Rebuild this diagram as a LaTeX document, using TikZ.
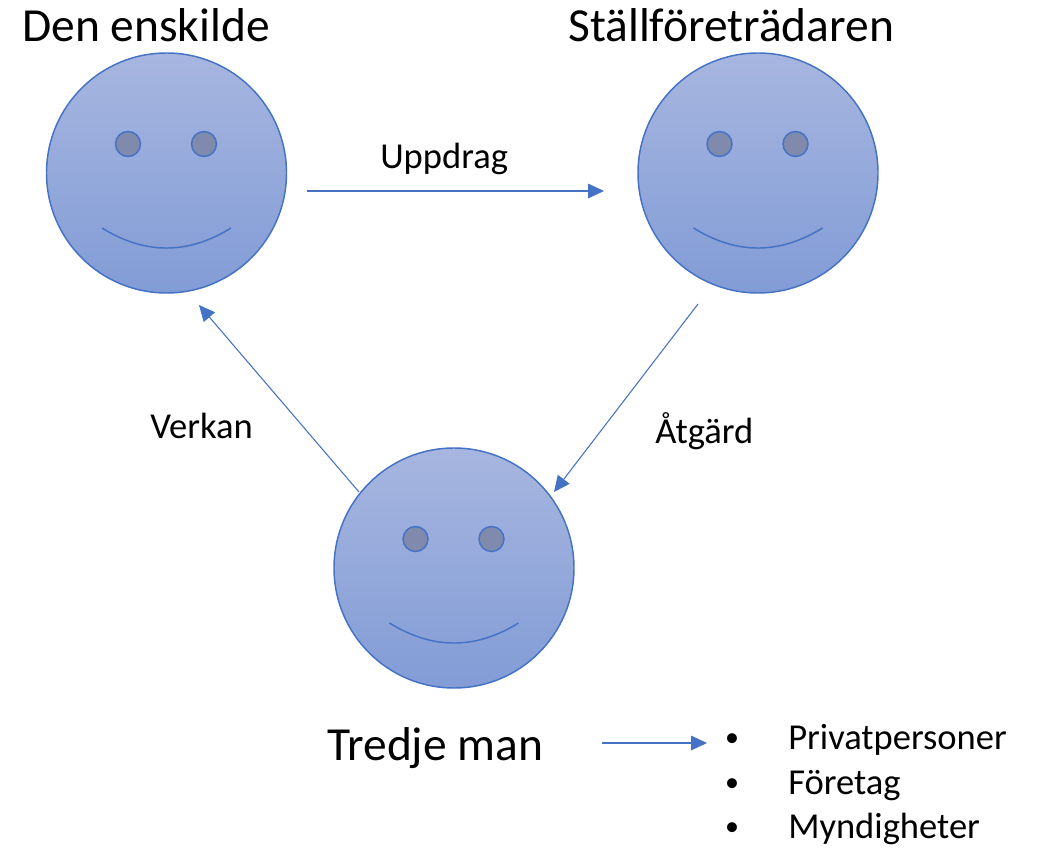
\documentclass[tikz,border=0pt]{standalone}
\usepackage{fontspec}
\setmainfont{Carlito}
\usetikzlibrary{arrows.meta}
\definecolor{facetop}{RGB}{167,182,224}
\definecolor{facebot}{RGB}{130,156,214}
\definecolor{edgeblue}{RGB}{68,114,196}
\definecolor{eyefill}{RGB}{127,138,173}
\tikzset{
  face/.style={circle, draw=edgeblue, line width=1.1pt, top color=facetop, bottom color=facebot, minimum size=180pt, inner sep=0pt},
  eye/.style={draw=edgeblue, line width=1.1pt, fill=eyefill},
  smile/.style={draw=edgeblue, line width=1.1pt},
  conn/.style={draw=edgeblue, line width=0.8pt, -{Triangle[length=12pt,width=11pt]}},
  bigtext/.style={anchor=base west, inner sep=0pt, font=\fontsize{35.6}{42}\selectfont},
  lbl/.style={anchor=base west, inner sep=0pt, font=\fontsize{27.4}{33}\selectfont},
  bul/.style={anchor=base, inner sep=0pt, font=\fontsize{21}{25}\selectfont},
}
\begin{document}
\begin{tikzpicture}[x=0.75pt, y=-0.75pt]
\useasboundingbox (0,0) rectangle (1038,848);
% faces
\node[face] (f1) at (166.5,173) {};
\node[face] (f2) at (758,173) {};
\node[face] (f3) at (454,568) {};
\foreach \f in {f1,f2,f3}{
  \begin{scope}[shift={(\f.center)}]
    \draw[eye] (-38.5,-29) circle[radius=12.5];
    \draw[eye] (37.5,-29) circle[radius=12.5];
    \draw[smile] (-64.5,55) .. controls (-21.5,81.7) and (21.5,81.7) .. (64.5,55);
  \end{scope}
}
% titles
\node[bigtext] (t1) at (22,42) {Den enskilde};
\node[bigtext] (t2) at (568,42) {Ställföreträdaren};
\node[bigtext] (t3) at (327,760) {Tredje man};
% connector endpoints
\coordinate (u1) at (307,191);
\coordinate (u2) at (604,191);
\coordinate (v1) at (359,492);
\coordinate (v2) at (199,305);
\coordinate (a1) at (698,304);
\coordinate (a2) at (554,492);
\coordinate (m1) at (602,743);
\coordinate (m2) at (707,743);
\draw[conn] (u1) -- (u2);
\draw[conn] (v1) -- (v2);
\draw[conn] (a1) -- (a2);
\draw[conn] (m1) -- (m2);
% labels
\node[lbl] (l1) at (380,169) {Uppdrag};
\node[lbl] (l2) at (150,438) {Verkan};
\node[lbl] (l3) at (655,443) {Åtgärd};
% list
\node[bul] (b1) at (732,746) {•};
\node[bul] (b2) at (732,791) {•};
\node[bul] (b3) at (732,835) {•};
\node[lbl] (p1) at (788,749) {Privatpersoner};
\node[lbl] (p2) at (788,794) {Företag};
\node[lbl] (p3) at (788,838) {Myndigheter};
\end{tikzpicture}
\end{document}
